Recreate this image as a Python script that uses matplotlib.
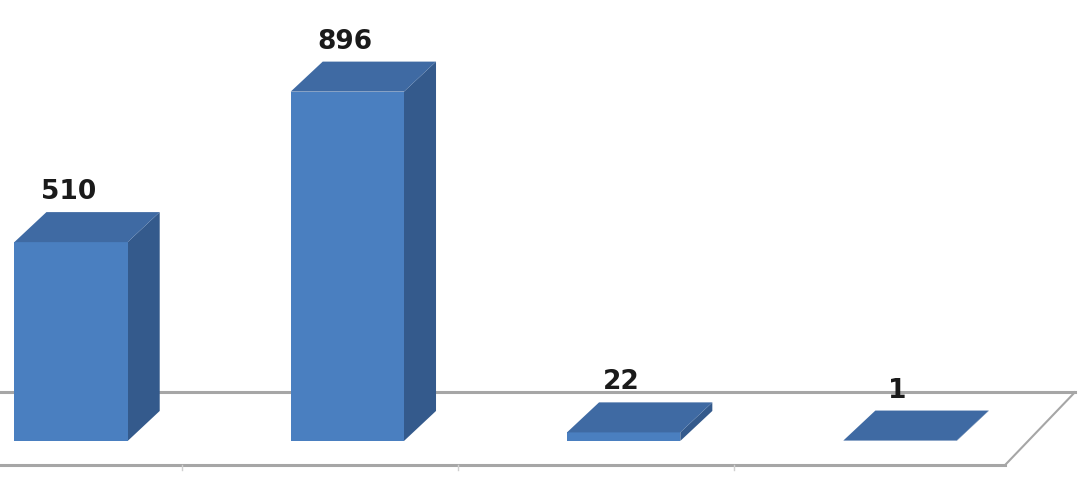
"""
3D-style column chart (Excel look) drawn with plain matplotlib patches.
"""
import matplotlib
matplotlib.use("Agg")
import matplotlib.pyplot as plt
from matplotlib.patches import Polygon

# data
categories = ["A", "B", "C", "D"]
values = [510, 896, 22, 1]

# colours
FRONT = "#4a7fc0"
SIDE = "#345a8c"
TOP = "#3f6aa3"
FLOOR = "#a6a6a6"

fig = plt.figure(figsize=(10.79, 4.94), dpi=100)
ax = fig.add_axes([0, 0, 1, 1])
ax.set_xlim(-0.257, 3.648)
ax.set_ylim(-136, 1131)
ax.axis("off")

# depth offsets (data units) of the bars and of the floor
DX, DY = 0.116, 77
FDX, FDY = 0.253, 187
FX0, FY0 = 3.38, -62
WIDTH = 0.41

xs = list(range(len(values)))

# floor: back edge behind bars, front edge and right side edge
ax.plot([-0.3, FX0 + FDX], [FY0 + FDY] * 2, color=FLOOR, lw=2.2, zorder=1)
ax.plot([-0.3, FX0], [FY0] * 2, color=FLOOR, lw=2.2, zorder=1)
ax.plot([FX0, FX0 + FDX], [FY0, FY0 + FDY], color=FLOOR, lw=1.5, zorder=1)
for b in [0.5, 1.5, 2.5]:
    ax.plot([b - 0.1, b - 0.1], [FY0, FY0 - 12], color="#d0d0d0", lw=1, zorder=1)

# front faces
ax.bar(xs, values, width=WIDTH, color=FRONT, edgecolor="none", zorder=3)

for x, v in zip(xs, values):
    x0, x1 = x - WIDTH / 2, x + WIDTH / 2
    side = [(x1, 0), (x1 + DX, DY), (x1 + DX, v + DY), (x1, v)]
    top = [(x0, v), (x1, v), (x1 + DX, v + DY), (x0 + DX, v + DY)]
    ax.add_patch(Polygon(side, closed=True, facecolor=SIDE, edgecolor="none", zorder=2))
    ax.add_patch(Polygon(top, closed=True, facecolor=TOP, edgecolor="none", zorder=4))
    ax.annotate(str(v), (x - 0.01, v + DY), xytext=(0, 5), textcoords="offset points",
                ha="center", va="bottom", fontsize=19, fontweight="bold",
                color="#1a1a1a", zorder=5)

fig.savefig("out.png", dpi=100)
